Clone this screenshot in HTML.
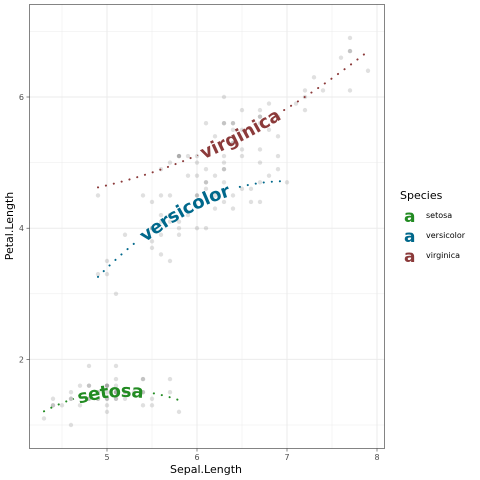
<!DOCTYPE html>
<html><head><meta charset="utf-8"><style>
body{margin:0;background:#fff;}
svg{display:block;font-family:"DejaVu Sans","Liberation Sans",sans-serif;}
</style></head><body>
<svg id="chart" width="480" height="480" xmlns="http://www.w3.org/2000/svg">
<rect width="480" height="480" fill="#fff"/>
<defs><mask id="txtmask" maskUnits="userSpaceOnUse" x="0" y="0" width="480" height="480"><rect width="480" height="480" fill="#fff"/><g id="maskg"></g></mask></defs>
<g id="grid"></g>
<g id="pts"></g>
<g id="lines" mask="url(#txtmask)"></g>
<g id="labels"></g>
<rect x="29.5" y="4.5" width="355" height="444" fill="none" stroke="#333" stroke-width="0.6"/>
<g id="axes"></g>
<text x="206" y="473" font-size="11" text-anchor="middle" fill="#000">Sepal.Length</text>
<text transform="translate(13,226) rotate(-90)" font-size="11" text-anchor="middle" fill="#000">Petal.Length</text>
<g>
<text x="400" y="199" font-size="11" fill="#000">Species</text>
<g><text x="404" y="222" font-size="17" font-weight="bold" fill="#228B22">a</text><text x="426" y="218" font-size="8" fill="#000">setosa</text></g>
<g><text x="404" y="242" font-size="17" font-weight="bold" fill="#00688B">a</text><text x="426" y="238" font-size="8" fill="#000">versicolor</text></g>
<g><text x="404" y="262" font-size="17" font-weight="bold" fill="#8B3A3A">a</text><text x="426" y="258" font-size="8" fill="#000">virginica</text></g>
</g>
</svg>
<script>
const species = ["setosa","versicolor","virginica"];
const colors = ["#228B22","#00688B","#8B3A3A"];
const setosaSepal = [5.1,4.9,4.7,4.6,5.0,5.4,4.6,5.0,4.4,4.9,5.4,4.8,4.8,4.3,5.8,5.7,5.4,5.1,5.7,5.1,5.4,5.1,4.6,5.1,4.8,5.0,5.0,5.2,5.2,4.7,4.8,5.4,5.2,5.5,4.9,5.0,5.5,4.9,4.4,5.1,5.0,4.5,4.4,5.0,5.1,4.8,5.1,4.6,5.3,5.0];
const setosaPetal = [1.4,1.4,1.3,1.5,1.4,1.7,1.4,1.5,1.4,1.5,1.5,1.6,1.4,1.1,1.2,1.5,1.3,1.4,1.7,1.5,1.7,1.5,1.0,1.7,1.9,1.6,1.6,1.5,1.4,1.6,1.6,1.5,1.5,1.4,1.5,1.2,1.3,1.4,1.3,1.5,1.3,1.3,1.3,1.6,1.9,1.4,1.6,1.4,1.5,1.4];
const versicolorSepal = [7.0,6.4,6.9,5.5,6.5,5.7,6.3,4.9,6.6,5.2,5.0,5.9,6.0,6.1,5.6,6.7,5.6,5.8,6.2,5.6,5.9,6.1,6.3,6.1,6.4,6.6,6.8,6.7,6.0,5.7,5.5,5.5,5.8,6.0,5.4,6.0,6.7,6.3,5.6,5.5,5.5,6.1,5.8,5.0,5.6,5.7,5.7,6.2,5.1,5.7];
const versicolorPetal = [4.7,4.5,4.9,4.0,4.6,4.5,4.7,3.3,4.6,3.9,3.5,4.2,4.0,4.7,3.6,4.4,4.5,4.1,4.5,3.9,4.8,4.0,4.9,4.7,4.3,4.4,4.8,5.0,4.5,3.5,3.8,3.7,3.9,5.1,4.5,4.5,4.7,4.4,4.1,4.0,4.4,4.6,4.0,3.3,4.2,4.2,4.2,4.3,3.0,4.1];
const virginicaSepal = [6.3,5.8,7.1,6.3,6.5,7.6,4.9,7.3,6.7,7.2,6.5,6.4,6.8,5.7,5.8,6.4,6.5,7.7,7.7,6.0,6.9,5.6,7.7,6.3,6.7,7.2,6.2,6.1,6.4,7.2,7.4,7.9,6.4,6.3,6.1,7.7,6.3,6.4,6.0,6.9,6.7,6.9,5.8,6.8,6.7,6.7,6.3,6.5,6.2,5.9];
const virginicaPetal = [6.0,5.1,5.9,5.6,5.8,6.6,4.5,6.3,5.8,6.1,5.1,5.3,5.5,5.0,5.1,5.3,5.5,6.7,6.9,5.0,5.7,4.9,6.7,4.9,5.7,6.0,4.8,4.9,5.6,5.8,6.1,6.4,5.6,5.1,5.6,6.1,5.6,5.5,4.8,5.4,5.6,5.1,5.1,5.9,5.7,5.2,5.0,5.2,5.4,5.1];
const xTicks = [5,6,7,8];
const yTicks = [2,4,6];

const NS="http://www.w3.org/2000/svg";
function sx(v){return 107+(v-5)*90;}
function sy(v){return 425-(v-1)*65.6;}
function mk(tag,attrs,parent){const e=document.createElementNS(NS,tag);for(const k in attrs)e.setAttribute(k,attrs[k]);parent.appendChild(e);return e;}
const grid=document.getElementById('grid'),pts=document.getElementById('pts'),lines=document.getElementById('lines'),labels=document.getElementById('labels'),axes=document.getElementById('axes'),maskg=document.getElementById('maskg');

// grid
for(let v=4.5;v<=8.01;v+=0.5){const major=Math.abs(v-Math.round(v))<1e-6;
 const l=mk('line',{x1:sx(v),x2:sx(v),y1:4.5,y2:448.5,stroke:'#EBEBEB','stroke-width':major?1:0.5},grid);
 
 }
for(let v=1;v<=7.01;v+=1){const major=v%2===0;
 const l=mk('line',{x1:29.5,x2:384.5,y1:sy(v),y2:sy(v),stroke:'#EBEBEB','stroke-width':major?1:0.5},grid);
 
 }
xTicks.forEach(t=>{mk('line',{x1:sx(t),x2:sx(t),y1:448.5,y2:451.5,stroke:'#333','stroke-width':0.6},axes);
 const tx=mk('text',{x:sx(t),y:460,'font-size':8,'text-anchor':'middle',fill:'#4D4D4D'},axes);tx.textContent=t;
 
 });
yTicks.forEach(t=>{mk('line',{x1:26.5,x2:29.5,y1:sy(t),y2:sy(t),stroke:'#333','stroke-width':0.6},axes);
 const tx=mk('text',{x:24,y:sy(t)+3,'font-size':8,'text-anchor':'end',fill:'#4D4D4D'},axes);tx.textContent=t;
 
 });

const X=[setosaSepal,versicolorSepal,virginicaSepal],Y=[setosaPetal,versicolorPetal,virginicaPetal];
// points
X.forEach((xs,s)=>xs.forEach((x,i)=>{const c=mk('circle',{cx:sx(x),cy:sy(Y[s][i]),r:2.2,fill:'#000','fill-opacity':0.12},pts);
 
 }));

// quadratic fit
function fit(xs,ys){const m=xs.reduce((a,b)=>a+b)/xs.length;let S=[0,0,0,0,0],T=[0,0,0];
 xs.forEach((x,i)=>{const u=x-m;let p=1;for(let k=0;k<5;k++){S[k]+=p;if(k<3)T[k]+=p*ys[i];p*=u;}});
 const A=[[S[0],S[1],S[2],T[0]],[S[1],S[2],S[3],T[1]],[S[2],S[3],S[4],T[2]]];
 for(let i=0;i<3;i++){for(let j=i+1;j<3;j++){const f=A[j][i]/A[i][i];for(let k=i;k<4;k++)A[j][k]-=f*A[i][k];}}
 const c=[0,0,0];for(let i=2;i>=0;i--){let s=A[i][3];for(let k=i+1;k<3;k++)s-=A[i][k]*c[k];c[i]=s/A[i][i];}
 return x=>{const u=x-m;return c[0]+c[1]*u+c[2]*u*u;};}
X.forEach((xs,s)=>{const f=fit(xs,Y[s]);const lo=Math.min(...xs),hi=Math.max(...xs);let d='';
 for(let k=0;k<=60;k++){const x=lo+(hi-lo)*k/60;d+=(k?'L':'M')+sx(x).toFixed(2)+','+sy(f(x)).toFixed(2);}
 const p=mk('path',{id:'curve'+s,d:d,fill:'none',stroke:colors[s],'stroke-width':2,'stroke-dasharray':'0.1 8','stroke-linecap':'round'},lines);
 
 
 [maskg,labels].forEach((g,gi)=>{const t=mk('text',{'font-size':18,'font-weight':'bold',fill:gi?colors[s]:'#000',stroke:gi?'none':'#000','stroke-width':gi?0:10,dy:'0.35em'},g);
  const tp=mk('textPath',{href:'#curve'+s,startOffset:'50%','text-anchor':'middle'},t);tp.textContent=species[s];
  if(gi){
  }});
});
</script>
</body></html>
